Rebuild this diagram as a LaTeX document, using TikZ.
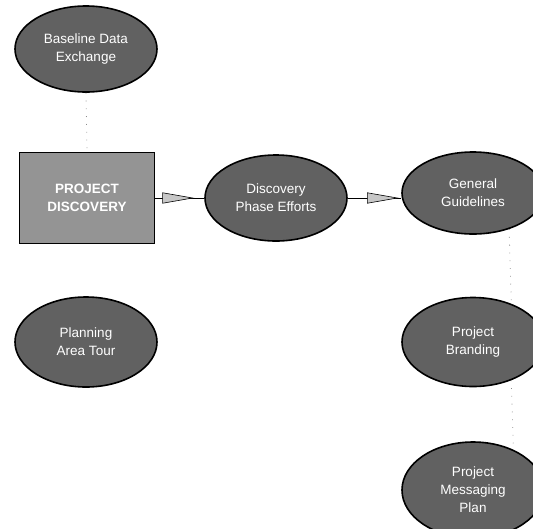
\documentclass[tikz,border=0pt]{standalone}
\usepackage{fontspec}
\setmainfont{Liberation Sans}
\usetikzlibrary{shapes.geometric, arrows.meta, decorations.markings}

\begin{document}
\begin{tikzpicture}[x=1pt, y=-1pt, thick,
    every node/.style={inner sep=2pt, align=center, text=white, font=\fontsize{13.5}{18}\selectfont},
    phase/.style={draw, ellipse, line width=1.6pt, fill=black!62, minimum width=142pt, minimum height=86pt},
    hub/.style={draw, rectangle, line width=1.2pt, fill=black!42, minimum width=135pt, minimum height=91pt, font=\fontsize{13.5}{18}\selectfont\bfseries},
    flow/.style={draw, line width=0.6pt, postaction={decorate},
        decoration={markings, mark=at position #1 with {\arrow{Triangle[length=32pt, width=11pt, fill=black!22, line width=0.6pt]}}}},
    link/.style={draw, black!45, line width=0.8pt, dash pattern=on 0.8pt off 7pt}]
    \useasboundingbox (0,0) rectangle (533,528);

    % Left column (x=86)
    \node[phase] (bde) at (86, 49) {Baseline Data\\Exchange};
    \node[hub] (pd) at (87, 198) {PROJECT\\DISCOVERY};
    \node[phase, minimum height=90pt] (pat) at (86, 342) {Planning\\Area Tour};

    % Middle
    \node[phase] (dpe) at (276, 198) {Discovery\\Phase Efforts};

    % Right column (x=473)
    \node[phase, minimum height=82pt] (gg) at (473, 193) {General\\Guidelines};
    \node[phase, minimum height=89pt] (pb) at (473, 342) {Project\\Branding};
    \node[phase, minimum height=96pt] (pmp) at (473, 490) {Project\\Messaging\\Plan};

    % Arrows
    \draw[flow=0.80] (pd.east) -- (dpe.west);
    \draw[flow=0.96] (dpe.east) -- (dpe.east -| gg.west);

    % Faint dotted links
    \draw[link] (bde.south) -- (pd.north);
    \draw[link] (gg.-45) -- (pb.45);
    \draw[link] (pb.-45) -- (pmp.45);
\end{tikzpicture}
\end{document}
